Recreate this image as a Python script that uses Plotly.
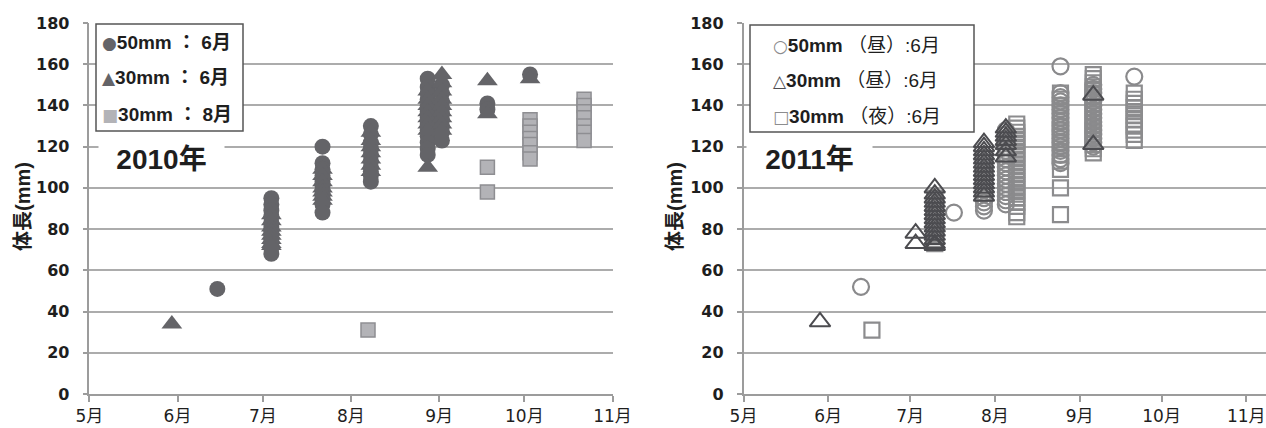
import plotly.graph_objects as go

# ---- 2010: body length (mm) by sampling date ----
c50_2010_dates = ["2010-06-15", "2010-07-04", "2010-07-22", "2010-08-08",
                  "2010-08-28", "2010-09-02", "2010-09-18", "2010-10-03"]
c50_2010_len = [
    [51],
    [95, 92, 89, 86, 83, 81, 79, 77, 75, 73, 71, 68],
    [120, 112, 109, 106, 103, 101, 99, 97, 95, 92, 88],
    [130, 126, 122, 119, 116, 113, 110, 108, 106, 103],
    [153, 149, 146, 143, 140, 137, 134, 131, 128, 125, 122, 119, 116],
    [150, 146, 142, 139, 136, 133, 130, 127, 123],
    [141, 138],
    [155],
]

t30_2010_dates = ["2010-05-30", "2010-07-04", "2010-07-22", "2010-08-08",
                  "2010-08-28", "2010-09-02", "2010-09-18", "2010-10-03"]
t30_2010_len = [
    [34],
    [87, 84, 81, 79, 77, 75, 73, 72],
    [109, 106, 103, 100, 98, 96, 94],
    [127, 123, 120, 117, 114, 111, 108],
    [147, 143, 140, 137, 134, 131, 128, 110],
    [155, 151, 147, 143, 140, 137, 134, 131, 128],
    [152, 136],
    [153],
]

s30_2010_dates = ["2010-08-07", "2010-09-18", "2010-10-03", "2010-10-22"]
s30_2010_len = [
    [31],
    [110, 98],
    [133, 130, 127, 124, 121, 117, 114],
    [143, 140, 137, 134, 130, 127, 123],
]

# ---- 2011 ----
c50_2011_dates = ["2011-06-13", "2011-07-10", "2011-07-17", "2011-07-28",
                  "2011-08-05", "2011-08-25", "2011-09-06", "2011-09-21"]
c50_2011_len = [
    [52],
    [94, 92, 90, 88, 86, 84, 82, 80, 78],
    [88],
    [89, 91, 93, 95, 97, 99, 101, 103, 105, 107, 109, 111, 113, 115],
    [128, 126, 124, 122, 120, 118, 116, 114, 112, 110, 108, 106, 104, 102,
     100, 98, 96, 94, 92],
    [159, 146, 144, 142, 140, 138, 136, 134, 132, 130, 128, 126, 124, 122,
     120, 118, 116, 114, 112],
    [150, 148, 146, 144, 142, 140, 138, 136, 134, 132, 130, 128, 126, 124,
     122, 120],
    [154],
]

t30_2011_dates = ["2011-05-29", "2011-07-03", "2011-07-10", "2011-07-28",
                  "2011-08-05", "2011-09-06"]
t30_2011_len = [
    [35],
    [78, 73],
    [100, 97, 95, 93, 91, 89, 87, 85, 83, 81, 79, 77, 75, 73, 72],
    [122, 120, 118, 116, 114, 112, 110, 108, 106, 104, 102, 100, 98, 96],
    [129, 127, 125, 123, 121, 118, 115],
    [145, 121],
]

s30_2011_dates = ["2011-06-17", "2011-07-10", "2011-08-09", "2011-08-25",
                  "2011-09-06", "2011-09-21"]
s30_2011_len = [
    [31],
    [95, 93, 91, 89, 87, 85, 83, 81, 79, 77, 75, 73],
    [131, 129, 127, 125, 123, 121, 119, 117, 115, 113, 111, 109, 107, 105,
     103, 101, 99, 97, 95, 93, 91, 88, 86],
    [146, 143, 140, 137, 134, 131, 128, 125, 122, 119, 116, 113, 109, 100, 87],
    [155, 153, 151, 149, 147, 145, 143, 141, 139, 137, 135, 133, 131, 129,
     127, 125, 123, 121, 119, 117],
    [146, 143, 141, 139, 137, 135, 133, 131, 130, 128, 126, 123],
]

month_ticks_2010 = ["2010-05-01", "2010-06-01", "2010-07-01", "2010-08-01",
                    "2010-09-01", "2010-10-01", "2010-11-01"]
month_ticks_2011 = ["2011-05-01", "2011-06-01", "2011-07-01", "2011-08-01",
                    "2011-09-01", "2011-10-01", "2011-11-01"]
month_labels = ["5月", "6月", "7月", "8月", "9月", "10月", "11月"]
y_ticks = [0, 20, 40, 60, 80, 100, 120, 140, 160, 180]

legend_2010 = ["50mm ： 6月", "30mm ： 6月", "30mm ： 8月"]
legend_2011 = ["50mm", "30mm", "30mm"]
legend_2011_tail = ["（昼）:6月", "（昼）:6月", "（夜）:6月"]


def expand(dates, groups):
    xs, ys = [], []
    for d, vals in zip(dates, groups):
        for v in vals:
            xs.append(d)
            ys.append(v)
    return xs, ys


DARK = "#646468"
LIGHT_FILL = "#b3b3b7"
LIGHT_EDGE = "#8e8e92"
OPEN_CIRC = "#8a8a8c"
OPEN_TRI = "#4c4c50"
OPEN_SQ = "#8c8c8e"

fig = go.Figure()

x, y = expand(c50_2010_dates, c50_2010_len)
fig.add_trace(go.Scatter(x=x, y=y, mode="markers", name="50mm：6月", xaxis="x", yaxis="y",
                         marker=dict(symbol="circle", size=16, color=DARK, line=dict(width=0))))
x, y = expand(t30_2010_dates, t30_2010_len)
fig.add_trace(go.Scatter(x=x, y=y, mode="markers", name="30mm：6月", xaxis="x", yaxis="y",
                         marker=dict(symbol="triangle-up", size=18, color=DARK, line=dict(width=0))))
x, y = expand(s30_2010_dates, s30_2010_len)
fig.add_trace(go.Scatter(x=x, y=y, mode="markers", name="30mm：8月", xaxis="x", yaxis="y",
                         marker=dict(symbol="square", size=14, color=LIGHT_FILL,
                                     line=dict(width=1.5, color=LIGHT_EDGE))))

x, y = expand(s30_2011_dates, s30_2011_len)
fig.add_trace(go.Scatter(x=x, y=y, mode="markers", name="30mm（夜）:6月", xaxis="x2", yaxis="y2",
                         marker=dict(symbol="square-open", size=15, color=OPEN_SQ,
                                     line=dict(width=2.2, color=OPEN_SQ))))
x, y = expand(c50_2011_dates, c50_2011_len)
fig.add_trace(go.Scatter(x=x, y=y, mode="markers", name="50mm（昼）:6月", xaxis="x2", yaxis="y2",
                         marker=dict(symbol="circle-open", size=16, color=OPEN_CIRC,
                                     line=dict(width=2.2, color=OPEN_CIRC))))
x, y = expand(t30_2011_dates, t30_2011_len)
fig.add_trace(go.Scatter(x=x, y=y, mode="markers", name="30mm（昼）:6月", xaxis="x2", yaxis="y2",
                         marker=dict(symbol="triangle-up-open", size=18, color=OPEN_TRI,
                                     line=dict(width=2, color=OPEN_TRI))))

W, H = 1266, 428
TOP, BOTTOM = 23, 34
PLOT_H = H - TOP - BOTTOM


def px_x(p):
    return p / W


def px_y(p):
    return (H - BOTTOM - p) / PLOT_H


AXIS_COLOR = "#9c9c9c"
GRID_COLOR = "#acacac"
tick_font = dict(family="DejaVu Sans, sans-serif", size=16, color="#1e1e1e", weight="bold")
month_font = dict(family="DejaVu Sans, Noto Sans CJK JP, sans-serif", size=17, color="#1e1e1e")

xcommon = dict(type="date", showgrid=False, zeroline=False, showline=True, linecolor=AXIS_COLOR,
               linewidth=1.5, ticks="outside", ticklen=6, tickcolor=AXIS_COLOR, tickwidth=1.5,
               tickfont=month_font, ticktext=month_labels, automargin=False)
ycommon = dict(range=[0, 180], tickvals=y_ticks, showgrid=True, gridcolor=GRID_COLOR, gridwidth=1.5,
               zeroline=False, showline=True, linecolor=AXIS_COLOR, linewidth=1.5, ticks="outside",
               ticklen=5, tickcolor=AXIS_COLOR, tickwidth=1.5, tickfont=tick_font,
               ticklabelstandoff=10, domain=[0, 1], automargin=False)

fig.update_layout(
    width=W, height=H, margin=dict(l=0, r=0, t=TOP, b=BOTTOM, autoexpand=False),
    paper_bgcolor="white", plot_bgcolor="white", showlegend=False,
    xaxis=dict(domain=[px_x(89.4), px_x(612.5)], range=["2010-05-01", "2010-11-01"],
               tickvals=month_ticks_2010, anchor="y", **xcommon),
    yaxis=dict(anchor="x", **ycommon),
    xaxis2=dict(domain=[px_x(743.5), 1.0], range=["2011-05-01", "2011-11-08 05:00"],
                tickvals=month_ticks_2011, anchor="y2", **xcommon),
    yaxis2=dict(anchor="x2", **ycommon),
)

title_font = dict(family="Liberation Sans, Noto Sans CJK JP, sans-serif", size=20, color="#1e1e1e", weight="bold")
for xp in (23, 675):
    fig.add_annotation(xref="paper", yref="paper", x=px_x(xp), y=px_y(207), text="体長(mm)",
                       textangle=-90, showarrow=False, font=title_font,
                       xanchor="center", yanchor="middle")

year_font = dict(family="Liberation Sans Narrow, Liberation Sans, Noto Sans CJK JP, sans-serif",
                 size=28, color="#1e1e1e", weight="bold")
for xp, label in ((161.5, "2010年"), (809, "2011年")):
    fig.add_annotation(xref="paper", yref="paper", x=px_x(xp), y=px_y(159), text=label,
                       showarrow=False, font=year_font, bgcolor="white", borderpad=0,
                       width=125, height=34, xanchor="center", yanchor="middle")

# legend boxes
fig.add_shape(type="rect", xref="paper", yref="paper", layer="above",
              x0=px_x(96), x1=px_x(243), y0=px_y(131), y1=px_y(24),
              line=dict(color="#555555", width=1.5), fillcolor="white")
fig.add_shape(type="rect", xref="paper", yref="paper", layer="above",
              x0=px_x(750), x1=px_x(974), y0=px_y(132), y1=px_y(25),
              line=dict(color="#555555", width=1.5), fillcolor="white")

leg_font = dict(family="Liberation Sans, Noto Sans CJK JP, sans-serif", size=19, color="#1e1e1e")
GLYPH = "font-family:DejaVu Sans;font-size:17px"
glyphs_2010 = [("●", DARK), ("▲", DARK), ("■", LIGHT_FILL)]
for (g, col), label, yp in zip(glyphs_2010, legend_2010, (42.7, 77.7, 114.3)):
    fig.add_annotation(xref="paper", yref="paper", x=px_x(100), y=px_y(yp), xanchor="left",
                       yanchor="middle",
                       text=f"<span style='color:{col};{GLYPH}'>{g}</span><b>{label}</b>",
                       showarrow=False, font=leg_font)

glyphs_2011 = [("○", OPEN_CIRC), ("△", OPEN_TRI), ("□", OPEN_SQ)]
for (g, col), label, tail, yp in zip(glyphs_2011, legend_2011, legend_2011_tail, (45, 80, 116.7)):
    fig.add_annotation(xref="paper", yref="paper", x=px_x(771), y=px_y(yp), xanchor="left",
                       yanchor="middle",
                       text=f"<span style='color:{col};{GLYPH}'>{g}</span><b>{label}</b> {tail}",
                       showarrow=False, font=leg_font)

fig.write_html("out.html")
